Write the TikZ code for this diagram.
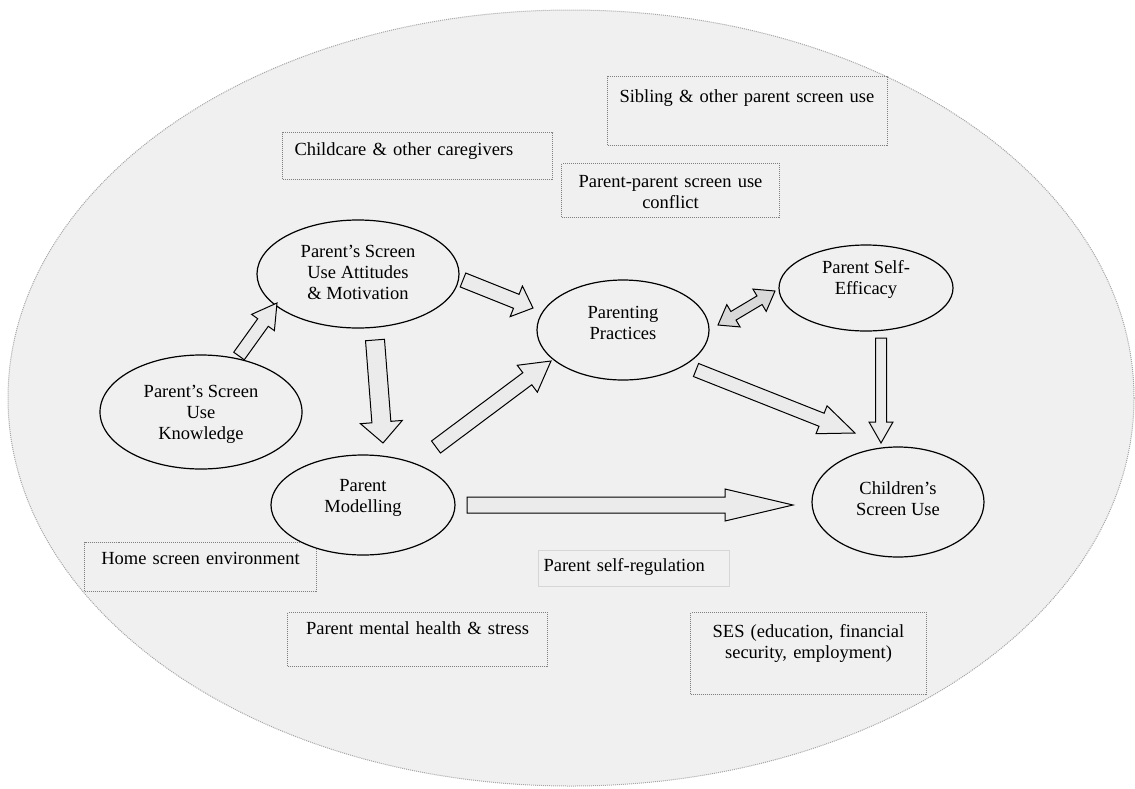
\documentclass[tikz,border=0pt]{standalone}
\usepackage{fontspec}
\setmainfont{Liberation Serif}
\usepackage{tikz}
\usetikzlibrary{positioning,shapes,calc}

\definecolor{envgray}{HTML}{F0F0F0}
\definecolor{envline}{HTML}{A6A6A6}
\definecolor{boxline}{HTML}{7F7F7F}
\definecolor{regline}{HTML}{D6D6D6}
\definecolor{arrowgray}{HTML}{EBEBEB}
\definecolor{dblgray}{HTML}{D9D9D9}

\tikzset {
    style env/.style={
        fill=envgray,
        draw=envline,
        line width=0.5pt,
        dash pattern=on 0.5pt off 0.5pt,
        ellipse, % Set the shape as an ellipse
        inner sep=0pt,
    },
    style construct/.style={
        fill=envgray,
        draw=black,
        line width=0.6pt,
        ellipse, % Set the shape as an ellipse
        inner sep=0pt,
        text depth=3pt,
        align=center,
    },
    style factor/.style={
        draw=boxline,
        line width=0.5pt,
        dash pattern=on 0.5pt off 0.5pt,
        rectangle, % Set the shape as a rectangle
        anchor=north west,
        inner ysep=0pt,
        inner xsep=0pt,
        align=center,
    },
    style arrow/.style n args={3}{
        draw=black,
        fill=arrowgray,
        line width=0.5pt,
        line join=miter,
        to path={
            ($(\tikztostart)!#1!90:(\tikztotarget)$)
            -- ($($(\tikztotarget)!#3!(\tikztostart)$)!#1!90:(\tikztotarget)$)
            -- ($($(\tikztotarget)!#3!(\tikztostart)$)!#2!90:(\tikztotarget)$)
            -- (\tikztotarget)
            -- ($($(\tikztotarget)!#3!(\tikztostart)$)!#2!-90:(\tikztotarget)$)
            -- ($($(\tikztotarget)!#3!(\tikztostart)$)!#1!-90:(\tikztotarget)$)
            -- ($(\tikztostart)!#1!-90:(\tikztotarget)$)
            -- cycle
        }
    },
    style double arrow/.style n args={3}{
        draw=black,
        fill=dblgray,
        line width=0.5pt,
        line join=miter,
        to path={
            (\tikztostart)
            -- ($($(\tikztostart)!#3!(\tikztotarget)$)!#2!90:(\tikztotarget)$)
            -- ($($(\tikztostart)!#3!(\tikztotarget)$)!#1!90:(\tikztotarget)$)
            -- ($($(\tikztotarget)!#3!(\tikztostart)$)!#1!90:(\tikztotarget)$)
            -- ($($(\tikztotarget)!#3!(\tikztostart)$)!#2!90:(\tikztotarget)$)
            -- (\tikztotarget)
            -- ($($(\tikztotarget)!#3!(\tikztostart)$)!#2!-90:(\tikztotarget)$)
            -- ($($(\tikztotarget)!#3!(\tikztostart)$)!#1!-90:(\tikztotarget)$)
            -- ($($(\tikztostart)!#3!(\tikztotarget)$)!#1!-90:(\tikztotarget)$)
            -- ($($(\tikztostart)!#3!(\tikztotarget)$)!#2!-90:(\tikztotarget)$)
            -- cycle
        }
    },
}

\begin{document}
\begin{tikzpicture}
[x=0.5pt, y=-0.5pt, font=\fontsize{9.25}{10.5}\selectfont]

\useasboundingbox (0,0) rectangle (1135,788);

% outer environment
\node [style env, minimum width=563pt, minimum height=388pt] (env) at (571,398) {};

% surrounding factors
\node [style factor, text width=128pt, text height=13pt, text depth=21.5pt, inner xsep=6pt, align=left] (sibling) at (607,76) {Sibling \& other parent screen use};
\node [style factor, text width=123pt, text height=11.5pt, text depth=12pt, inner xsep=6pt, align=left] (childcare) at (282,132) {Childcare \& other caregivers};
\node [style factor, text width=109pt, text height=12pt, text depth=15pt] (conflict) at (561,163) {Parent-parent screen use\\conflict};
\node [style factor, text width=116pt, text height=11pt, text depth=13.5pt] (home) at (84,542) {Home screen environment};
\node [style factor, draw=regline, solid, text width=90.5pt, text height=10.5pt, text depth=7.5pt, inner xsep=2.5pt, align=left] (regulation) at (538,550) {Parent self-regulation};
\node [style factor, text width=130pt, text height=11pt, text depth=16pt] (mental) at (287,612) {Parent mental health \& stress};
\node [style factor, text width=118pt, text height=12.5pt, text depth=28.5pt] (ses) at (690,612) {SES (education, financial\\security, employment)};

% constructs
\node [style construct, minimum width=101pt, minimum height=54pt, text height=28pt] (attitude) at (358,274) {Parent’s Screen\\Use Attitudes\\\& Motivation};
\node [style construct, minimum width=101pt, minimum height=57pt, text height=30pt] (knowledge) at (201,412) {Parent’s Screen\\Use\\Knowledge};
\node [style construct, minimum width=86pt, minimum height=50pt, text height=12pt] (practices) at (623,330) {Parenting\\Practices};
\node [style construct, minimum width=87pt, minimum height=43pt, text height=9pt] (efficacy) at (866,288) {Parent Self-\\Efficacy};
\node [style construct, minimum width=86pt, minimum height=55pt, text height=16pt] (child) at (898,502) {Children’s\\Screen Use};
\node [style construct, minimum width=92pt, minimum height=50pt, text height=10pt] (modelling) at (363,505) {Parent\\Modelling};

% arrow ends
\coordinate (knowledge out) at (239,356);
\coordinate (attitude in) at (277,303);
\coordinate (attitude out) at (463,280);
\coordinate (practices in) at (533,308);
\coordinate (attitude down) at (375,340);
\coordinate (modelling in) at (383,443);
\coordinate (modelling out) at (436,447);
\coordinate (practices low) at (551,361);
\coordinate (practices side) at (718,325);
\coordinate (efficacy side) at (775,291);
\coordinate (practices out) at (696,370);
\coordinate (child in) at (855,433);
\coordinate (efficacy down) at (881,338);
\coordinate (child top) at (881,443);
\coordinate (modelling right) at (467,505);
\coordinate (child left) at (793,505);

% arrows
\draw [style arrow={3.25pt}{7pt}{12pt}] (knowledge out) to (attitude in);
\draw [style arrow={3.75pt}{8.25pt}{9pt}] (attitude out) to (practices in);
\draw [style arrow={4.75pt}{10.5pt}{10.5pt}] (attitude down) to (modelling in);
\draw [style arrow={3.75pt}{8.4pt}{14.8pt}] (modelling out) to (practices low);
\draw [style double arrow={2.5pt}{6.5pt}{9pt}] (practices side) to (efficacy side);
\draw [style arrow={3.5pt}{7.5pt}{18pt}] (practices out) to (child in);
\draw [style arrow={2.75pt}{6pt}{10.5pt}] (efficacy down) to (child top);
\draw [style arrow={4pt}{8pt}{34pt}] (modelling right) to (child left);

\end{tikzpicture}
\end{document}
